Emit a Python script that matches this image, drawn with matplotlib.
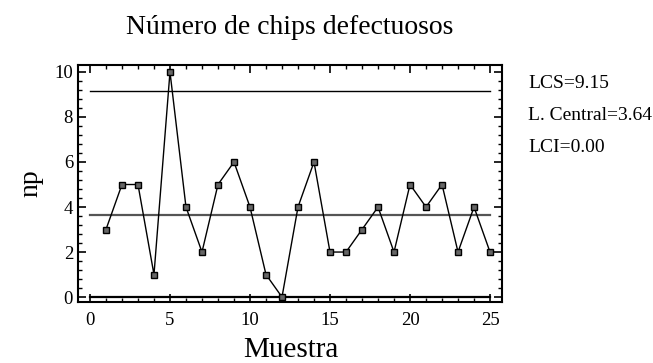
import numpy as np
import matplotlib
matplotlib.use("Agg")
import matplotlib.pyplot as plt
from matplotlib.ticker import MultipleLocator

# Datos: número de chips defectuosos por muestra
muestra = list(range(1, 26))
defectuosos = [3, 5, 5, 1, 10, 4, 2, 5, 6, 4, 1, 0, 4, 6, 2, 2, 3, 4, 2, 5, 4, 5, 2, 4, 2]
lcs = 9.15
central = 3.64
lci = 0.00

plt.rcParams['font.family'] = ['Liberation Serif', 'DejaVu Serif']

fig = plt.figure(figsize=(6.53, 3.63), dpi=100)
ax = fig.add_axes([0.1194, 0.168, 0.6494, 0.653])

# Límites de control
ax.plot([0, 25], [lcs, lcs], color='black', lw=1.0)
ax.plot([0, 25], [central, central], color='#555555', lw=1.6)
ax.plot([0, 25], [lci, lci], color='black', lw=1.6)

# Serie
ax.plot(muestra, defectuosos, color='black', lw=1.0, marker='s', ms=4,
        mfc='#666666', mec='black', mew=1.0)

ax.set_xlim(-0.75, 25.75)
ax.set_ylim(-0.22, 10.31)
ax.xaxis.set_major_locator(MultipleLocator(5))
ax.xaxis.set_minor_locator(MultipleLocator(1))
ax.yaxis.set_major_locator(MultipleLocator(2))
ax.yaxis.set_minor_locator(MultipleLocator(0.4))
ax.tick_params(which='both', direction='in', top=True, right=True, labelsize=13.5)
ax.tick_params(axis='x', which='major', pad=7)
ax.tick_params(which='major', length=6, width=1.2)
ax.tick_params(which='minor', length=3, width=1.0)
for s in ax.spines.values():
    s.set_linewidth(1.5)

# Título y etiquetas de ejes
fig.text(290 / 653, 1 - 28 / 363, 'Número de chips defectuosos', fontsize=20,
         ha='center', va='center')
fig.text(291 / 653, 1 - 357 / 363, 'Muestra', fontsize=21, ha='center', va='baseline')
ax.set_ylabel('np', fontsize=20, labelpad=8)

# Etiquetas de los límites
fig.text(528 / 653, 1 - 84 / 363, 'LCS=%.2f' % lcs, fontsize=14, va='center')
fig.text(528 / 653, 1 - 115 / 363, 'L. Central=%.2f' % central, fontsize=14, va='center')
fig.text(528 / 653, 1 - 147 / 363, 'LCI=%.2f' % lci, fontsize=14, va='center')

fig.savefig('out.png', dpi=100)
